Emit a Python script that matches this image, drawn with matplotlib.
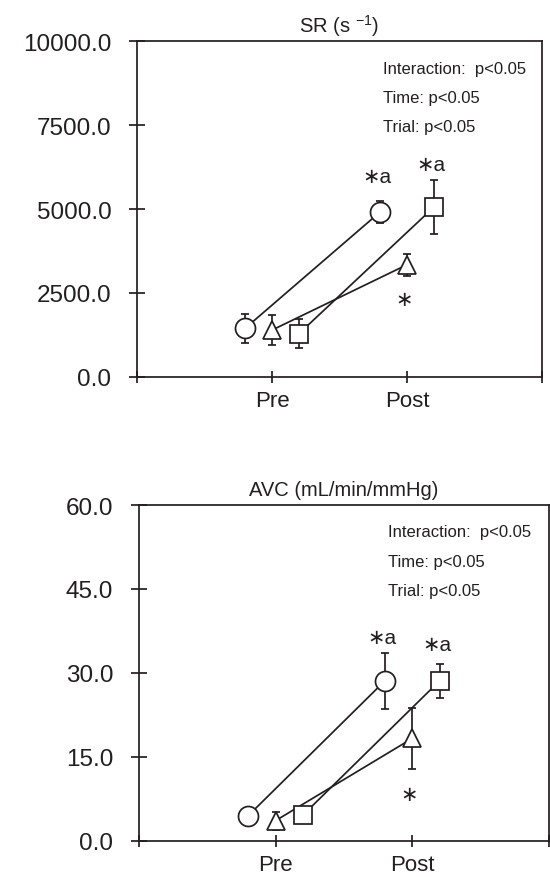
import numpy as np
import matplotlib.pyplot as plt
from matplotlib.ticker import FormatStrFormatter

plt.rcParams['font.family'] = ['Liberation Sans', 'DejaVu Sans']
plt.rcParams['mathtext.fontset'] = 'custom'
plt.rcParams['mathtext.rm'] = 'Liberation Sans'
plt.rcParams['mathtext.it'] = 'Liberation Sans'

INK = '#231f20'

# x categories
times = ['Pre', 'Post']
trials = ['circle', 'triangle', 'square']

# SR (s^-1): mean and SD, [Pre, Post]
sr_mean = {'circle': [1440, 4910], 'triangle': [1390, 3340], 'square': [1285, 5060]}
sr_err = {'circle': [440, 330], 'triangle': [440, 330], 'square': [425, 800]}

# AVC (mL/min/mmHg)
avc_mean = {'circle': [4.5, 28.6], 'triangle': [3.6, 18.3], 'square': [4.6, 28.6]}
avc_err = {'circle': [0.8, 5.0], 'triangle': [1.6, 5.5], 'square': [0.8, 3.0]}

sr_ticks = [0, 2500, 5000, 7500, 10000]
avc_ticks = [0, 15, 30, 45, 60]

# significance marks: (trial, text, value)
sr_marks = [('circle', '∗a', 5980), ('square', '∗a', 6340), ('triangle', '∗', 2310)]
avc_marks = [('circle', '∗a', 36.4), ('square', '∗a', 35.1), ('triangle', '∗', 8.3)]

stats = ['Interaction:  p<0.05', 'Time: p<0.05', 'Trial: p<0.05']

offset = {'circle': -0.2, 'triangle': 0.0, 'square': 0.2}
marker = {'circle': ('o', 14.4), 'triangle': ('^', 13.5), 'square': ('s', 12.7)}
LW = 1.25


def draw_panel(ax, means, errs, ticks, marks, title):
    for t in trials:
        x = np.array([1, 2]) + offset[t]
        ax.plot(x, means[t], color=INK, lw=LW, zorder=1)
        ax.errorbar(x, means[t], yerr=errs[t], fmt='none', ecolor=INK,
                    elinewidth=LW, capsize=3, capthick=LW, zorder=2)
        m, ms = marker[t]
        ax.plot(x, means[t], linestyle='none', marker=m, ms=ms, mfc='white',
                mec=INK, mew=LW, zorder=3)
    for t, txt, v in marks:
        ax.text(2 + offset[t] - 0.02, v, txt, ha='center', va='center',
                fontsize=15, color=INK)
    for i, s in enumerate(stats):
        ax.text(0.607, 0.92 - 0.087 * i, s, transform=ax.transAxes,
                ha='left', va='center', fontsize=12, color=INK)

    ax.set_xlim(0, 3)
    ax.set_ylim(ticks[0], ticks[-1])
    ax.set_xticks([0, 1, 2, 3])
    ax.set_xticklabels([''] + times + [''])
    ax.set_yticks(ticks)
    ax.yaxis.set_major_formatter(FormatStrFormatter('%.1f'))
    ax.tick_params(axis='y', direction='inout', length=11, width=LW,
                   labelsize=17.5, pad=13, colors=INK)
    ax.tick_params(axis='x', direction='inout', length=9, width=LW,
                   labelsize=16, pad=5, colors=INK)
    for sp in ax.spines.values():
        sp.set_linewidth(LW)
        sp.set_color(INK)
    ax.set_title(title, fontsize=14.5, color=INK, pad=7)


fig = plt.figure(figsize=(5.5, 8.78), dpi=100)
ax1 = fig.add_axes([0.2491, 0.5698, 0.7364, 0.382])
ax2 = fig.add_axes([0.2527, 0.0413, 0.7455, 0.3823])

draw_panel(ax1, sr_mean, sr_err, sr_ticks, sr_marks, 'SR (s $^{-1}$)')
draw_panel(ax2, avc_mean, avc_err, avc_ticks, avc_marks, 'AVC (mL/min/mmHg)')

fig.savefig('out.png', dpi=100)
